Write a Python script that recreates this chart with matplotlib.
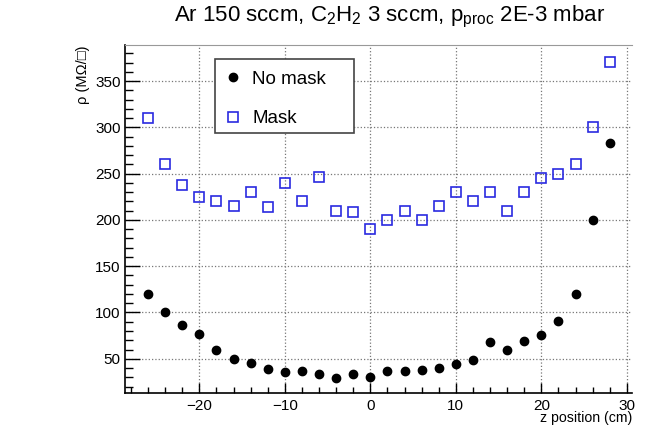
import matplotlib
matplotlib.use("Agg")
import matplotlib.pyplot as plt
from matplotlib.patches import Rectangle
from matplotlib.ticker import MultipleLocator

plt.rcParams['font.family'] = ['Liberation Sans', 'DejaVu Sans']
plt.rcParams['mathtext.fontset'] = 'custom'
plt.rcParams['mathtext.rm'] = 'Liberation Sans'
plt.rcParams['mathtext.it'] = 'Liberation Sans'

# z positions (cm)
z_pos = [-26, -24, -22, -20, -18, -16, -14, -12, -10, -8, -6, -4, -2, 0,
         2, 4, 6, 8, 10, 12, 14, 16, 18, 20, 22, 24, 26, 28]
# sheet resistance, no mask
rho_nomask = [120, 100, 86, 77, 59, 50, 45, 39, 36, 37, 33, 29, 34, 30,
              37, 37, 38, 40, 44, 49, 68, 60, 69, 76, 91, 120, 200, 283]
# sheet resistance, with mask
rho_mask = [310, 260, 238, 225, 220, 215, 230, 214, 240, 220, 246, 210, 209, 190,
            200, 210, 200, 215, 230, 220, 230, 210, 230, 245, 250, 260, 300, 371]

fig = plt.figure(figsize=(6.45, 4.29), dpi=100)
ax = fig.add_axes([0.1938, 0.0839, 0.786, 0.8112])

ax.plot(z_pos, rho_nomask, 'o', color='black', markersize=6, label='No mask', zorder=3)
ax.plot(z_pos, rho_mask, 's', markerfacecolor='none', markeredgecolor='#2a2ae0',
        markeredgewidth=1.2, markersize=7, label='Mask', zorder=3)

ax.set_xlim(-28.7, 30.6)
ax.set_ylim(13, 389)

ax.xaxis.set_major_locator(MultipleLocator(10))
ax.xaxis.set_minor_locator(MultipleLocator(2))
ax.yaxis.set_major_locator(MultipleLocator(50))
ax.yaxis.set_minor_locator(MultipleLocator(10))
ax.set_yticks([50, 100, 150, 200, 250, 300, 350])

ax.tick_params(axis='both', which='both', direction='in', labelsize=11)
ax.tick_params(axis='y', which='major', length=11, width=1, pad=3)
ax.tick_params(axis='y', which='minor', length=5.5, width=1)
ax.tick_params(axis='x', which='major', length=7.5, width=1, pad=4)
ax.tick_params(axis='x', which='minor', length=4, width=1)

ax.grid(True, which='major', linestyle=':', color='#777777', linewidth=0.9)
ax.set_axisbelow(True)

ax.spines['right'].set_visible(False)
ax.spines['top'].set_color('#999999')
ax.spines['left'].set_linewidth(1.2)
ax.spines['bottom'].set_linewidth(1.2)

# legend box drawn separately to match the reference size
ax.add_patch(Rectangle((0.1775, 0.748), 0.2745, 0.211, transform=ax.transAxes,
                       facecolor='white', edgecolor='#444444', linewidth=1.2, zorder=4))
leg = ax.legend(loc='center left', bbox_to_anchor=(0.197, 0.845), fontsize=13.5,
                frameon=False, borderpad=0, handletextpad=0.55,
                labelspacing=1.2, handlelength=0.9, borderaxespad=0)
leg.set_zorder(5)

fig.text(390 / 645, 1 - 17 / 429,
         r"Ar 150 sccm, C$_{2}$H$_{2}$ 3 sccm, p$_{\mathrm{proc}}$ 2E-3 mbar",
         ha='center', va='center', fontsize=16)
fig.text(632 / 645, 1 - 418 / 429, "z position (cm)", ha='right', va='center', fontsize=10.2)
fig.text(83 / 645, 1 - 45 / 429, "ρ (MΩ/□)", rotation=90, ha='center', va='top', fontsize=10.5)

fig.savefig("out.png", dpi=100)
